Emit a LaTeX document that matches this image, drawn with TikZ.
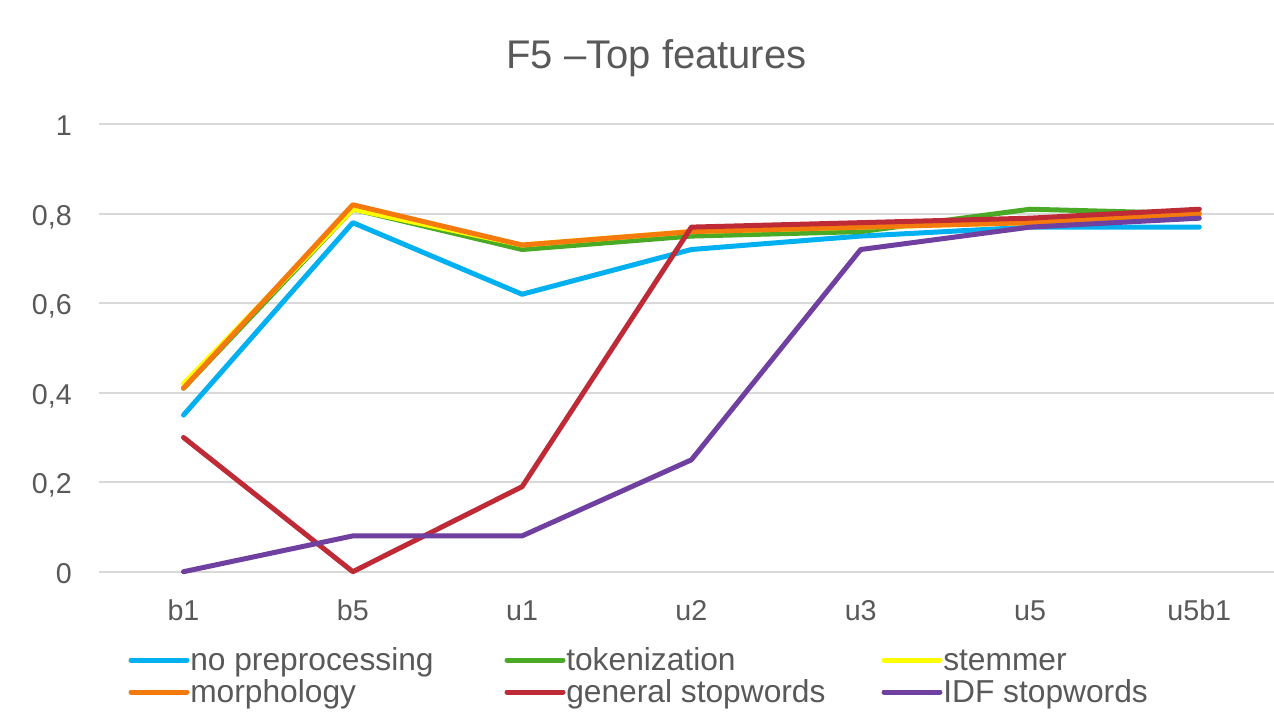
\documentclass[tikz,border=0pt]{standalone}
\usepackage{fontspec}
\setmainfont{Liberation Sans}
\definecolor{txt}{HTML}{595959}
\definecolor{gridc}{HTML}{D9D9D9}
\definecolor{cnp}{HTML}{00B0F0}
\definecolor{ctok}{HTML}{4AAA25}
\definecolor{cstem}{HTML}{FFFF00}
\definecolor{cmorph}{HTML}{F47A0E}
\definecolor{cgen}{HTML}{BE2B36}
\definecolor{cidf}{HTML}{7040A0}
\begin{document}
\begin{tikzpicture}[x=0.75pt,y=-0.75pt,
  gridline/.style={draw=gridc,line width=1.2pt},
  series/.style={line width=3.75pt,line cap=round,line join=round},
  lbl/.style={text=txt,inner sep=0pt,font=\fontsize{21.5}{24}\selectfont},
  legtxt/.style={text=txt,inner sep=0pt,font=\fontsize{23.8}{27}\selectfont,anchor=base west},
  titletxt/.style={text=txt,inner sep=0pt,font=\fontsize{30}{34}\selectfont,anchor=base}]
\useasboundingbox (0,0) rectangle (1274,711);
\fill[white] (0,0) rectangle (1274,711);
% title
\node[titletxt] (title) at (656.5,68) {F5 –Top features};
% grid and y labels
\foreach \v/\l [count=\k] in {0/0,0.2/{0,2},0.4/{0,4},0.6/{0,6},0.8/{0,8},1/1}{
  \pgfmathsetmacro{\yy}{571.7-447.5*\v}
  \draw[gridline] (99,\yy) -- (1274,\yy);
  \node[lbl,anchor=base east] (ylab\k) at (72,\yy+11.5) {\l};
}
% category labels
\foreach \c [count=\i from 0] in {b1,b5,u1,u2,u3,u5,u5b1}{
  \node[lbl,anchor=base] (xlab\i) at (183.5+169.3*\i,620) {\c};
}
% series
\foreach \nm/\col/\vals in {
  np/cnp/{0.35,0.78,0.62,0.72,0.75,0.77,0.77},
  tok/ctok/{0.41,0.81,0.72,0.75,0.76,0.81,0.80},
  stem/cstem/{0.42,0.81,0.73,0.76,0.77,0.78,0.80},
  morph/cmorph/{0.41,0.82,0.73,0.76,0.77,0.78,0.80},
  gen/cgen/{0.30,0.00,0.19,0.77,0.78,0.79,0.81},
  idf/cidf/{0.00,0.08,0.08,0.25,0.72,0.77,0.79}}{
  \foreach \v [count=\i from 0] in \vals {
    \coordinate (\nm-\i) at (183.5+169.3*\i,571.7-447.5*\v);
  }
  \draw[series,draw=\col] (\nm-0) \foreach \i in {1,...,6}{ -- (\nm-\i)};
}
% legend
\foreach \nm/\col/\txt/\lx/\ly in {
  np/cnp/no preprocessing/131/660,
  tok/ctok/tokenization/507/660,
  stem/cstem/stemmer/884/660,
  morph/cmorph/morphology/131/692,
  gen/cgen/general stopwords/507/692,
  idf/cidf/IDF stopwords/884/692}{
  \coordinate (leg-\nm-a) at (\lx,\ly);
  \coordinate (leg-\nm-b) at (\lx+56,\ly);
  \draw[series,draw=\col] (leg-\nm-a) -- (leg-\nm-b);
  \node[legtxt] (legtxt-\nm) at (\lx+59,\ly+10.5) {\txt};
}
\end{tikzpicture}
\end{document}
